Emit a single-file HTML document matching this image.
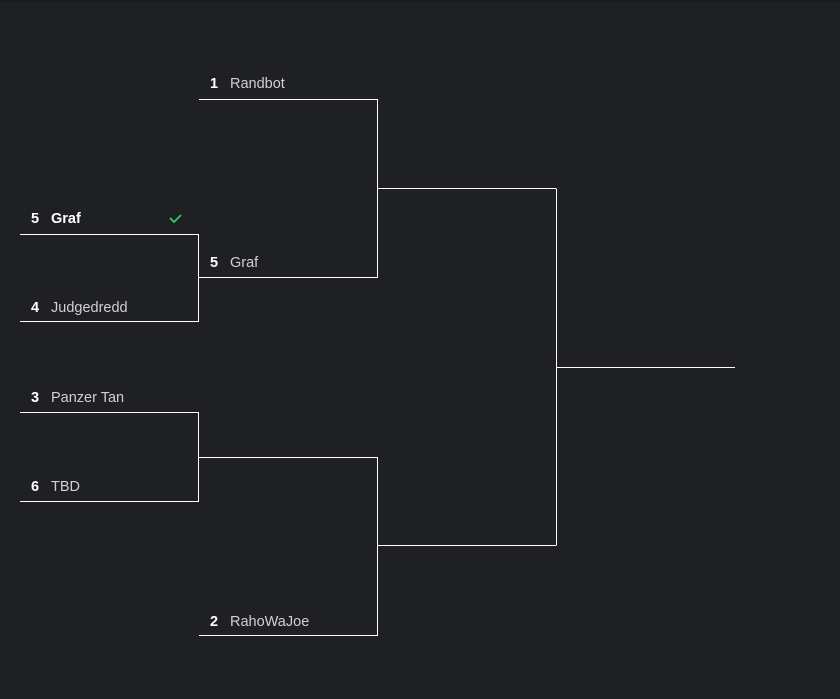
<!DOCTYPE html>
<html><head><meta charset="utf-8"><style>
html,body{margin:0;padding:0;background:#1f2024;}
svg{display:block;}
text{font-family:"Liberation Sans",sans-serif;font-size:14.5px;}
.n{fill:#fff;font-weight:bold;}
.t{fill:#d0d0d0;}
</style></head><body>
<svg width="840" height="699" viewBox="0 0 840 699">
<rect width="840" height="699" fill="#1f2024"/>
<rect width="840" height="2" fill="#1a1b1e"/>
<g stroke="#fff" stroke-width="1" fill="none">
<path d="M20 234.5H198.5V321.5H20"/>
<path d="M198.5 277.5H378"/>
<path d="M20 412.5H198.5V501.5H20"/>
<path d="M198.5 457.5H378"/>
<path d="M199 99.5H377.5V277.5"/>
<path d="M377.5 188.5H556"/>
<path d="M199 635.5H377.5V457.5"/>
<path d="M377.5 545.5H556"/>
<path d="M556.5 188.5V545.5"/>
<path d="M556.5 367.5H735"/>
</g>
<text x="31" y="223" class="n">5</text><text x="51" y="223" class="n">Graf</text>
<path d="M170 218l4 4 7-7" stroke="#2ecc71" stroke-width="1.8" fill="none"/>
<text x="31" y="312" class="n">4</text><text x="51" y="312" class="t">Judgedredd</text>
<text x="31" y="402" class="n">3</text><text x="51" y="402" class="t">Panzer Tan</text>
<text x="31" y="491" class="n">6</text><text x="51" y="491" class="t">TBD</text>
<text x="210" y="88" class="n">1</text><text x="230" y="88" class="t">Randbot</text>
<text x="210" y="267" class="n">5</text><text x="230" y="267" class="t">Graf</text>
<text x="210" y="626" class="n">2</text><text x="230" y="626" class="t">RahoWaJoe</text>
</svg>
</body></html>
